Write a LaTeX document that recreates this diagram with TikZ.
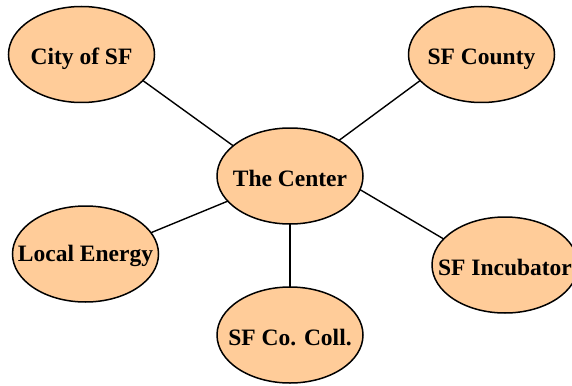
\documentclass[tikz,border=0pt]{standalone}
\usepackage{fontspec}
\setmainfont{Liberation Serif}
\usetikzlibrary{shapes.geometric}
\definecolor{peach}{HTML}{FFCC99}
\newcommand{\blbl}[1]{\makebox[0pt][c]{#1}}
\tikzset{
  bubble/.style={ellipse, draw=black, fill=peach, line width=1.5pt,
    minimum width=146pt, minimum height=96pt, inner sep=0pt, outer sep=0pt,
    text height=20pt, text depth=0pt,
    font=\fontsize{23.5}{26}\selectfont\bfseries},
  link/.style={draw=black, line width=1.4pt}
}
\begin{document}
\begin{tikzpicture}[x=1pt,y=-1pt]
\useasboundingbox (0,0) rectangle (572,385);
\node[bubble] (city) at (81.5,54.5) {\blbl{City of SF}};
\node[bubble] (county) at (481.5,54.5) {\blbl{SF County}};
\node[bubble] (center) at (290,176) {\blbl{The Center}};
\node[bubble, text depth=6pt] (local) at (85.5,254) {\blbl{Local Energy}};
\node[bubble] (incub) at (505,265) {\blbl{SF Incubator}};
\node[bubble] (coll) at (290,335) {\blbl{SF Co. Coll.}};
\draw[link] (city.-23.7) -- (center.152.7);
\draw[link] (county.203.9) -- (center.36.7);
\draw[link] (local.18.1) -- (center.202.9);
\draw[link] (incub.157.9) -- (center.-11.9);
\draw[link] (coll.90) -- (center.-90);
\end{tikzpicture}
\end{document}
